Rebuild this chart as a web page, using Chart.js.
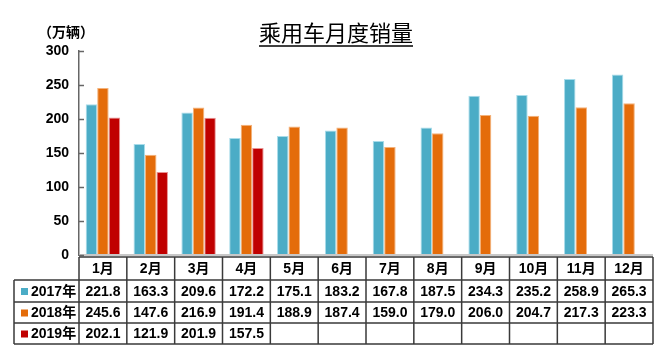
<!DOCTYPE html>
<html><head><meta charset="utf-8">
<script src="https://cdn.jsdelivr.net/npm/chart.js@4/dist/chart.umd.min.js"></script>
<style>html,body{margin:0;padding:0;background:#fff}#wrap{width:670px;height:355px}</style>
</head><body><div id="wrap"><canvas id="c" width="670" height="355"></canvas></div>
<script>
const months = ['1月','2月','3月','4月','5月','6月','7月','8月','9月','10月','11月','12月'];
const seriesNames = ['2017年','2018年','2019年'];
const sales2017 = [221.8,163.3,209.6,172.2,175.1,183.2,167.8,187.5,234.3,235.2,258.9,265.3];
const sales2018 = [245.6,147.6,216.9,191.4,188.9,187.4,159.0,179.0,206.0,204.7,217.3,223.3];
const sales2019 = [202.1,121.9,201.9,157.5,null,null,null,null,null,null,null,null];
const yTickValues = [0,50,100,150,200,250,300];
const titleText = '乘用车月度销量';
const unitText = '（万辆）';

const fills = ['#4BACC6','#E46C0A','#C00000'];
const borders = ['#A8DCEA','#F4B27A','#E89090'];
const seriesData = [sales2017, sales2018, sales2019];
const FONT = "'Liberation Sans','Noto Sans CJK SC',sans-serif";
const CJK = "'Noto Sans CJK SC','Liberation Sans',sans-serif";

const tablePlugin = {
  id: 'tablePlugin',
  afterDraw(chart) {
    const ctx = chart.ctx;
    const ca = chart.chartArea;
    const x = chart.scales.x, y = chart.scales.y;
    const colW = (ca.right - ca.left) / months.length;
    ctx.save();
    ctx.strokeStyle = '#c8c8c8'; ctx.lineWidth = 2;
    ctx.beginPath(); ctx.moveTo(ca.left, ca.bottom); ctx.lineTo(ca.right, ca.bottom); ctx.stroke();
    ctx.strokeStyle = '#666'; ctx.lineWidth = 1.5;
    yTickValues.forEach(v => {
      const py = Math.round(y.getPixelForValue(v)) + 0.5;
      ctx.beginPath(); ctx.moveTo(ca.left, py); ctx.lineTo(ca.left + 5, py); ctx.stroke();
    });
    const top = ca.bottom + 2;
    const rowH = [23, 22, 21, 21];
    const rowsY = [top];
    rowH.forEach(h => rowsY.push(rowsY[rowsY.length - 1] + h));
    const leftX = 14;
    ctx.strokeStyle = '#3a3a3a'; ctx.lineWidth = 1.5;
    ctx.beginPath();
    ctx.moveTo(ca.left, rowsY[0]); ctx.lineTo(ca.right, rowsY[0]);
    for (let i = 1; i < rowsY.length; i++) { ctx.moveTo(leftX, rowsY[i]); ctx.lineTo(ca.right, rowsY[i]); }
    ctx.moveTo(leftX, rowsY[1]); ctx.lineTo(leftX, rowsY[4]);
    for (let i = 0; i <= months.length; i++) {
      const xx = i === months.length ? ca.right : x.getPixelForValue(i) - colW / 2;
      ctx.moveTo(xx, rowsY[0]); ctx.lineTo(xx, rowsY[4]);
    }
    ctx.stroke();
    ctx.fillStyle = '#000';
    ctx.font = 'bold 14px ' + FONT;
    ctx.textAlign = 'center'; ctx.textBaseline = 'middle';
    months.forEach((m, i) => {
      const cx = x.getPixelForValue(i);
      ctx.fillText(m, cx, (rowsY[0] + rowsY[1]) / 2 + 1);
      seriesData.forEach((arr, s) => {
        const v = arr[i];
        if (v !== null && v !== undefined) ctx.fillText(v.toFixed(1), cx, (rowsY[s + 1] + rowsY[s + 2]) / 2 + 1);
      });
    });
    ctx.textAlign = 'left';
    seriesNames.forEach((n, s) => {
      const cy = (rowsY[s + 1] + rowsY[s + 2]) / 2;
      ctx.fillStyle = fills[s];
      ctx.fillRect(21, cy - 3, 7, 7);
      ctx.fillStyle = '#000';
      ctx.fillText(n, 31, cy + 1);
    });
    ctx.font = '22px ' + FONT;
    ctx.textAlign = 'center'; ctx.textBaseline = 'alphabetic';
    const tx = 336, ty = 41;
    ctx.fillText(titleText, tx, ty);
    const tw = ctx.measureText(titleText).width;
    ctx.strokeStyle = '#000'; ctx.lineWidth = 1.5;
    ctx.beginPath(); ctx.moveTo(tx - tw / 2, ty + 5); ctx.lineTo(tx + tw / 2, ty + 5); ctx.stroke();
    ctx.font = 'bold 14px ' + CJK;
    ctx.textAlign = 'left'; ctx.textBaseline = 'middle';
    ctx.fillText(unitText, 38, 32);
    ctx.restore();
  }
};

new Chart(document.getElementById('c'), {
  type: 'bar',
  data: {
    labels: months,
    datasets: seriesNames.map((n, s) => ({
      label: n,
      data: seriesData[s],
      backgroundColor: fills[s],
      borderColor: borders[s],
      borderWidth: 1,
      categoryPercentage: 0.72,
      barPercentage: 1.0
    }))
  },
  options: {
    responsive: false,
    devicePixelRatio: 1,
    animation: false,
    layout: { padding: { left: 0, top: 51, right: 17, bottom: 100 } },
    plugins: { legend: { display: false }, title: { display: false }, tooltip: { enabled: false } },
    scales: {
      x: { display: false },
      y: {
        min: 0, max: 300,
        afterFit(scale) { scale.width = 79; },
        afterBuildTicks(scale) { scale.ticks = yTickValues.map(v => ({ value: v })); },
        ticks: { color: '#000', padding: 10, font: { family: FONT, size: 14, weight: 'bold' } },
        grid: { display: false, drawTicks: false },
        border: { display: true, color: '#666', width: 1.5 }
      }
    }
  },
  plugins: [tablePlugin]
});
</script>
</body></html>
